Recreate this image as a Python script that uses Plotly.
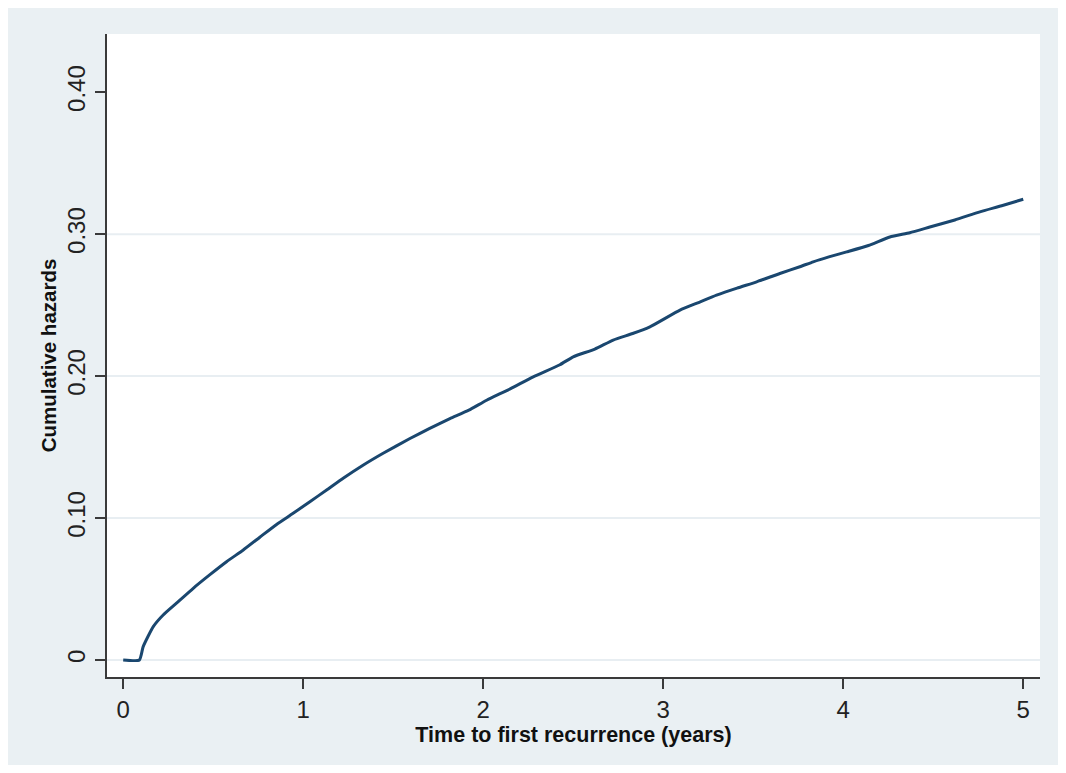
import plotly.graph_objects as go

# Cumulative hazard estimate (time in years)
time_years = [0, 0.09, 0.111, 0.167, 0.222, 0.296, 0.389, 0.48, 0.574, 0.667, 0.759,
              0.852, 0.944, 1.037, 1.13, 1.222, 1.33, 1.444, 1.593, 1.70, 1.815, 1.92,
              2.019, 2.15, 2.278, 2.426, 2.50, 2.62, 2.722, 2.83, 2.926, 3.093, 3.20,
              3.296, 3.41, 3.519, 3.648, 3.759, 3.833, 3.92, 4.019, 4.14, 4.259, 4.37,
              4.481, 4.62, 4.759, 4.88, 5.0]
cum_hazard = [0, 0, 0.0094, 0.0235, 0.0317, 0.040, 0.0505, 0.0599, 0.0692, 0.0775, 0.0865,
              0.0955, 0.1033, 0.1115, 0.1197, 0.128, 0.137, 0.1456, 0.156, 0.163, 0.170,
              0.176, 0.183, 0.191, 0.1995, 0.208, 0.2136, 0.219, 0.2254, 0.230, 0.2347,
              0.2465, 0.252, 0.257, 0.262, 0.2664, 0.2723, 0.277, 0.2805, 0.284, 0.2875,
              0.292, 0.298, 0.301, 0.305, 0.310, 0.3157, 0.320, 0.3246]

x_ticks = [0, 1, 2, 3, 4, 5]
y_ticks = [0, 0.1, 0.2, 0.3, 0.4]
y_tick_labels = ['0', '0.10', '0.20', '0.30', '0.40']
grid_values = [0, 0.1, 0.2, 0.3]

font_family = 'Arial, Liberation Sans, sans-serif'
bg_color = '#eaf0f3'
axis_color = '#3a3a3a'

fig = go.Figure()

fig.add_trace(go.Scatter(
    x=time_years,
    y=cum_hazard,
    mode='lines',
    line=dict(color='#1a476f', width=3, shape='spline', smoothing=0.5),
    showlegend=False
))

# light horizontal grid lines (none at the top tick, as in the reference)
shapes = []
for g in grid_values:
    shapes.append(dict(type='line', xref='paper', yref='y', x0=0, x1=1, y0=g, y1=g,
                       line=dict(color='#e8eef2', width=2), layer='below'))

fig.update_layout(
    width=1050,
    height=757,
    paper_bgcolor=bg_color,
    plot_bgcolor='white',
    margin=dict(l=99, r=18, t=26, b=88),
    font=dict(family=font_family, color='#222222'),
    shapes=shapes,
    xaxis=dict(
        range=[-0.09, 5.093],
        tickvals=x_ticks,
        ticks='outside',
        ticklen=10,
        tickwidth=2,
        tickcolor=axis_color,
        tickfont=dict(size=24, color='#222222'),
        showgrid=False,
        zeroline=False,
        showline=True,
        linecolor=axis_color,
        linewidth=2,
        title=dict(text='<b>Time to first recurrence (years)</b>',
                   font=dict(size=21.5, color='#111111'), standoff=0),
    ),
    yaxis=dict(
        range=[-0.012, 0.441],
        tickvals=y_ticks,
        ticktext=y_tick_labels,
        tickangle=-90,
        ticks='outside',
        ticklen=10,
        tickwidth=2,
        tickcolor=axis_color,
        tickfont=dict(size=24, color='#222222'),
        showgrid=False,
        zeroline=False,
        showline=True,
        linecolor=axis_color,
        linewidth=2,
        title=dict(text='<b>Cumulative hazards</b>',
                   font=dict(size=20.5, color='#111111'), standoff=1),
    ),
)

fig.write_html('out.html')
